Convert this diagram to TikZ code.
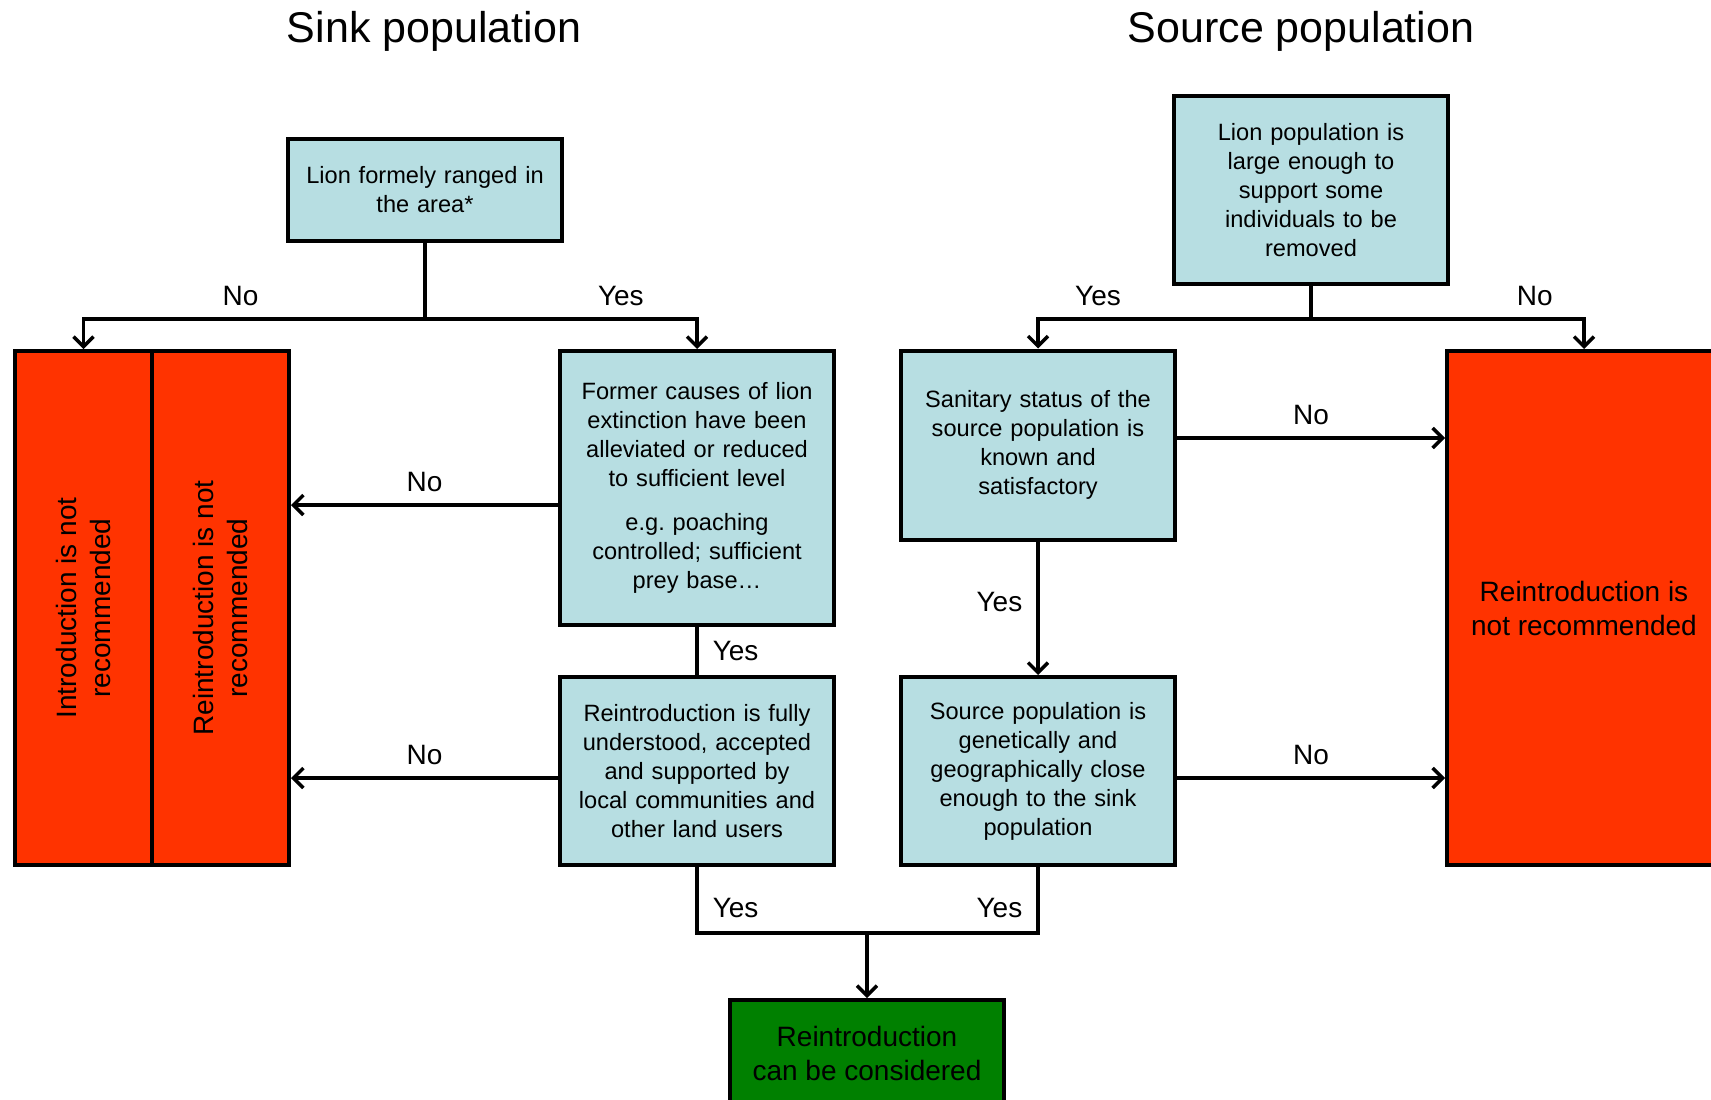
\documentclass[tikz,border=0pt]{standalone}
\usepackage{fontspec}
\setmainfont{Liberation Sans}
\usepackage{xcolor}
\usetikzlibrary{arrows.meta,positioning,calc}

\definecolor{qblue}{RGB}{183,222,226}
\definecolor{nored}{RGB}{255,51,0}
\definecolor{okgreen}{RGB}{0,128,0}

\begin{document}
\begin{tikzpicture}[
  x=1pt, y=1pt,
  node distance=48pt,
  box/.style={draw, line width=4pt, fill=qblue, align=center, minimum width=274pt,
    text width=250pt, inner sep=0pt, font=\fontsize{23.6}{29}\selectfont},
  redbox/.style={draw, line width=4pt, fill=nored, align=center, inner sep=0pt,
    font=\fontsize{28}{34}\selectfont},
  greenbox/.style={draw, line width=4pt, fill=okgreen, align=center, inner sep=0pt,
    minimum width=274pt, font=\fontsize{28}{34}\selectfont},
  title/.style={font=\fontsize{43}{50}\selectfont},
  lbl/.style={font=\fontsize{28}{34}\selectfont, inner sep=2pt},
  line/.style={line width=3.5pt},
  arrow/.style={line width=3.5pt, -{Straight Barb[length=10pt,width=20pt]}}
]
\path[use as bounding box, fill=white] (0,0) rectangle (1711,-1100);

% titles
\node[title] (sinkttl) at (434,-31) {Sink population};
\node[title] (srcttl) at (1301,-31) {Source population};

% sink side
\node[box, minimum height=102pt] (ranged) at (425,-190) {Lion formely ranged in\\the area*};
\node[box, minimum height=274pt] (causes) at (697,-488)
  {\frenchspacing Former causes of lion\\extinction have been\\alleviated or reduced\\to sufficient level\\[15pt]
   e.g. poaching\\controlled; sufficient\\prey base…};
\node[box, minimum height=188pt, below=of causes] (accept)
  {Reintroduction is fully\\understood, accepted\\and supported by\\local communities and\\other land users};
\node[redbox, rotate=90, minimum width=514pt, minimum height=137pt] (nointro) at (83.5,-608)
  {Introduction is not\\recommended};
\node[redbox, rotate=90, minimum width=514pt, minimum height=137pt] (noreintro) at (220.5,-608)
  {Reintroduction is not\\recommended};

% source side
\node[box, minimum height=188pt] (srcsize) at (1311,-190)
  {Lion population is\\large enough to\\support some\\individuals to be\\removed};
\node[box, minimum height=189pt] (sanitary) at (1038,-445)
  {Sanitary status of the\\source population is\\known and\\satisfactory};
\node[box, minimum height=188pt] (genetic) at (sanitary |- accept)
  {Source population is\\genetically and\\geographically close\\enough to the sink\\population};
\node[redbox, minimum width=274pt, minimum height=514pt] (nosource) at (1584,-608)
  {Reintroduction is\\not recommended};

\node[greenbox, minimum height=106pt] (consider) at (867,-1053) {Reintroduction\\can be considered};

% splits
\coordinate (lsplit) at (425,-319);
\coordinate (rsplit) at (1311,-319);
\coordinate (join) at (867,-933);

\draw[line] (ranged) -- (lsplit);
\draw[arrow] (lsplit) -| node[lbl, pos=0.27, above=9pt] {No} (nointro);
\draw[arrow] (lsplit) -| node[lbl, pos=0.36, above=9pt] {Yes} (causes);
\draw[line] (srcsize) -- (rsplit);
\draw[arrow] (rsplit) -| node[lbl, pos=0.39, above=9pt] {Yes} (sanitary);
\draw[arrow] (rsplit) -| node[lbl, pos=0.41, above=9pt] {No} (nosource);

\draw[arrow] ([yshift=-17pt]causes.west) -- node[lbl, above=9pt] {No}
  ([yshift=-17pt]causes.west -| noreintro.south);
\draw[arrow] ([yshift=-7pt]accept.west) -- node[lbl, above=9pt] {No}
  ([yshift=-7pt]accept.west -| noreintro.south);
\draw[line] (causes) -- node[lbl, right=12pt] {Yes} (accept);

\draw[arrow] ([yshift=7pt]sanitary.east) -- node[lbl, above=9pt] {No}
  ([yshift=7pt]sanitary.east -| nosource.west);
\draw[arrow] ([yshift=-7pt]genetic.east) -- node[lbl, above=9pt] {No}
  ([yshift=-7pt]genetic.east -| nosource.west);
\draw[arrow] (sanitary) -- node[lbl, left=12pt, pos=0.45] {Yes} (genetic);

\draw[line] (accept) |- node[lbl, pos=0.31, right=12pt] {Yes} (join);
\draw[line] (genetic) |- node[lbl, pos=0.31, left=12pt] {Yes} (join);
\draw[arrow] (join) -- (consider);
\end{tikzpicture}
\end{document}
